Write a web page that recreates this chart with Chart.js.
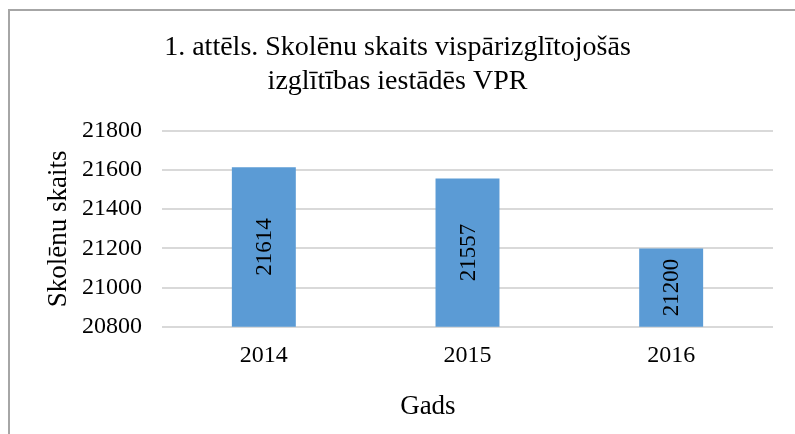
<!DOCTYPE html>
<html>
<head>
<meta charset="utf-8">
<script src="https://cdn.jsdelivr.net/npm/chart.js@4.4.1/dist/chart.umd.min.js"></script>
<style>
  html, body { margin: 0; padding: 0; background: #fff; }
  #wrap { position: relative; width: 795px; height: 434px; }
  #frame { position: absolute; left: 8px; top: 9px; right: 0; bottom: 0; border-left: 2px solid #a6a6a6; border-top: 2px solid #a6a6a6; pointer-events: none; }
</style>
</head>
<body>
<div id="wrap">
  <canvas id="chart" width="795" height="434"></canvas>
  <div id="frame"></div>
</div>
<script>
const years = ["2014", "2015", "2016"];
const pupils = [21614, 21557, 21200];
const yTicks = [20800, 21000, 21200, 21400, 21600, 21800];

const serif = "'Liberation Serif', 'Times New Roman', serif";

// rotated value labels in the middle of each bar (base clipped to the plot bottom)
const barLabels = {
  id: "barLabels",
  afterDatasetsDraw(chart) {
    const ctx = chart.ctx;
    const bottom = chart.chartArea.bottom;
    ctx.save();
    ctx.fillStyle = "#000";
    ctx.font = "23px " + serif;
    ctx.textAlign = "center";
    ctx.textBaseline = "middle";
    chart.getDatasetMeta(0).data.forEach((bar, i) => {
      const p = bar.getProps(["x", "y", "base"], true);
      const mid = (p.y + Math.min(p.base, bottom)) / 2;
      ctx.save();
      ctx.translate(p.x, mid);
      ctx.rotate(-Math.PI / 2);
      ctx.fillText(String(pupils[i]), 0, 1);
      ctx.restore();
    });
    ctx.restore();
  },
};

new Chart(document.querySelector("#chart"), {
  type: "bar",
  data: {
    labels: years,
    datasets: [{
      data: pupils,
      backgroundColor: "#5b9bd5",
      categoryPercentage: 1,
      barPercentage: 0.314,
    }],
  },
  options: {
    responsive: false,
    animation: false,
    layout: { padding: { left: 22, right: 22, top: 0, bottom: 11 } },
    plugins: {
      legend: { display: false },
      tooltip: { enabled: false },
      title: {
        display: true,
        text: ["1. attēls. Skolēnu skaits vispārizglītojošās", "izglītības iestādēs VPR"],
        color: "#000",
        font: { family: serif, size: 28, weight: "normal", lineHeight: 1.21 },
        padding: { top: 31, bottom: 32 },
      },
      subtitle: {
        display: true,
        position: "bottom",
        text: "         Gads",
        color: "#000",
        font: { family: serif, size: 27, weight: "normal", lineHeight: 1.2 },
        padding: { top: 13, bottom: 0 },
      },
    },
    scales: {
      x: {
        grid: { display: false },
        border: { display: false },
        ticks: { color: "#000", font: { family: serif, size: 24 }, padding: 7 },
      },
      y: {
        min: 20800,
        max: 21800,
        afterBuildTicks: (axis) => { axis.ticks = yTicks.map((v) => ({ value: v })); },
        afterFit: (axis) => { axis.width = 140; },
        grid: { color: "#d9d9d9", lineWidth: 2, drawTicks: false },
        border: { display: false },
        ticks: {
          color: "#000",
          font: { family: serif, size: 24 },
          padding: 20,
          callback: (value) => String(value),
        },
        title: {
          display: true,
          text: "Skolēnu skaits",
          color: "#000",
          font: { family: serif, size: 27 },
          padding: { top: 21, bottom: 7 },
        },
      },
    },
  },
  plugins: [barLabels],
});
</script>
</body>
</html>
